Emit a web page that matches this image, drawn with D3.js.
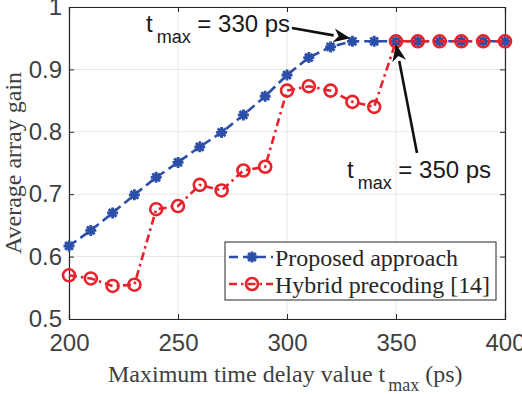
<!DOCTYPE html>
<html>
<head>
<meta charset="utf-8">
<script src="https://cdn.jsdelivr.net/npm/d3@7"></script>
<style>
  body { margin: 0; background: #fff; }
  svg { display: block; }
</style>
</head>
<body>
<div id="chart"></div>
<script>
// data
var delays = [200, 210, 220, 230, 240, 250, 260, 270, 280, 290, 300, 310, 320, 330, 340, 350, 360, 370, 380, 390, 400];
var proposed = [0.617, 0.642, 0.670, 0.699, 0.727, 0.751, 0.776, 0.799, 0.827, 0.857, 0.891, 0.919, 0.936, 0.945, 0.945, 0.945, 0.945, 0.945, 0.945, 0.945, 0.945];
var hybrid = [0.570, 0.565, 0.553, 0.555, 0.676, 0.681, 0.715, 0.706, 0.738, 0.744, 0.866, 0.873, 0.866, 0.848, 0.840, 0.945, 0.945, 0.945, 0.945, 0.945, 0.945];
var xTicks = [200, 250, 300, 350, 400];
var yTicks = [0.5, 0.6, 0.7, 0.8, 0.9, 1];
var seriesNames = ["Proposed approach", "Hybrid precoding [14]"];

var W = 522, H = 394;
var margin = {top: 7, right: 17, bottom: 75, left: 69};
var width = W - margin.left - margin.right,
    height = H - margin.top - margin.bottom;

var blue = "#2b4ea8", red = "#e8212b";

var svg = d3.select("#chart").append("svg")
  .attr("width", W)
  .attr("height", H);

var g = svg.append("g")
  .attr("transform", "translate(" + margin.left + "," + margin.top + ")");

var x = d3.scaleLinear().domain([200, 400]).range([0, width]);
var y = d3.scaleLinear().domain([0.5, 1]).range([height, 0]);

//Grid
g.append("g").selectAll("line").data(xTicks).enter().append("line")
  .attr("x1", function(d){ return x(d); })
  .attr("x2", function(d){ return x(d); })
  .attr("y1", 0).attr("y2", height)
  .style("stroke", "#e6e6e6").style("stroke-width", 1);
g.append("g").selectAll("line").data(yTicks).enter().append("line")
  .attr("y1", function(d){ return y(d); })
  .attr("y2", function(d){ return y(d); })
  .attr("x1", 0).attr("x2", width)
  .style("stroke", "#e6e6e6").style("stroke-width", 1);

//Axes
var tickFont = "'Liberation Sans', Arial, sans-serif";
var xAxis = g.append("g")
  .attr("transform", "translate(0," + height + ")")
  .call(d3.axisBottom(x).tickValues(xTicks).tickSize(-5).tickPadding(15));
var yAxis = g.append("g")
  .call(d3.axisLeft(y).tickValues(yTicks).tickSize(-5).tickPadding(7)
    .tickFormat(function(d){ return d === 1 ? "1" : d3.format(".1f")(d); }));
g.append("g")
  .attr("transform", "translate(" + width + ",0)")
  .call(d3.axisRight(y).tickValues(yTicks).tickSize(-5).tickFormat(""));
g.append("g")
  .call(d3.axisTop(x).tickValues(xTicks).tickSize(-5).tickFormat(""));

g.selectAll(".domain").style("stroke", "#262626").style("stroke-width", 1.2);
g.selectAll(".tick line").style("stroke", "#262626");
g.selectAll(".tick text")
  .style("font-family", tickFont)
  .style("font-size", "24px")
  .style("fill", "#404040");
xAxis.selectAll(".tick text").attr("dy", "0.71em");

//Lines
var line = function(vals){
  return d3.line()
    .x(function(d, i){ return x(delays[i]); })
    .y(function(d){ return y(d); })(vals);
};

g.append("path")
  .attr("d", line(proposed))
  .style("fill", "none").style("stroke", blue)
  .style("stroke-width", 2.6).style("stroke-dasharray", "9,5");

function asterisk(sel, cx, cy, r){
  var a = r * 0.7071;
  sel.append("path")
    .attr("d", "M" + (cx - r) + "," + cy + "L" + (cx + r) + "," + cy +
               "M" + cx + "," + (cy - r) + "L" + cx + "," + (cy + r) +
               "M" + (cx - a) + "," + (cy - a) + "L" + (cx + a) + "," + (cy + a) +
               "M" + (cx - a) + "," + (cy + a) + "L" + (cx + a) + "," + (cy - a))
    .style("stroke", blue).style("stroke-width", 2.8).style("fill", "none");
}

proposed.forEach(function(d, i){ asterisk(g, x(delays[i]), y(d), 5.5); });

g.append("path")
  .attr("d", line(hybrid))
  .style("fill", "none").style("stroke", red)
  .style("stroke-width", 2.6).style("stroke-dasharray", "8,4,2.5,4");

g.selectAll(".hyb").data(hybrid).enter().append("circle")
  .attr("class", "hyb")
  .attr("cx", function(d, i){ return x(delays[i]); })
  .attr("cy", function(d){ return y(d); })
  .attr("r", 6)
  .style("fill", "none").style("stroke", red).style("stroke-width", 2.6);

//Legend
var serif = "'Liberation Serif', 'Times New Roman', serif";
var legendLen = [183, 215];
var lg = svg.append("g").attr("transform", "translate(225,242)");
lg.append("rect")
  .attr("width", 271).attr("height", 58)
  .style("fill", "#fff").style("stroke", "#262626").style("stroke-width", 1);
[0, 1].forEach(function(k){
  var yy = 15 + k * 27;
  lg.append("line")
    .attr("x1", 4).attr("x2", 48).attr("y1", yy).attr("y2", yy)
    .style("stroke", k ? red : blue).style("stroke-width", 2.6)
    .style("stroke-dasharray", k ? "8,4,2.5,4" : "9,5");
  if(k) lg.append("circle").attr("cx", 27).attr("cy", yy).attr("r", 6)
    .style("fill", "none").style("stroke", red).style("stroke-width", 2.6);
  else asterisk(lg, 27, yy, 5.5);
  lg.append("text")
    .attr("x", 50).attr("y", yy + 9)
    .attr("textLength", legendLen[k]).attr("lengthAdjust", "spacingAndGlyphs")
    .style("font-family", serif).style("font-size", "24px").style("fill", "#262626")
    .text(seriesNames[k]);
});

//Axis labels
var xl = svg.append("text")
  .attr("x", 108).attr("y", 382)
  .style("font-family", serif).style("font-size", "24px").style("fill", "#404040");
xl.append("tspan").text("Maximum time delay value t");
xl.append("tspan").attr("dx", 3).attr("dy", 9).style("font-size", "18px").text("max");
xl.append("tspan").attr("dy", -9).text(" (ps)");

svg.append("text")
  .attr("transform", "translate(21," + (margin.top + height / 2) + ") rotate(-90)")
  .style("text-anchor", "middle")
  .style("font-family", serif).style("font-size", "24px").style("fill", "#404040")
  .text("Average array gain");

//Annotations
function annot(tx, ty, val){
  var t = svg.append("text")
    .attr("x", tx).attr("y", ty)
    .style("font-family", tickFont).style("font-size", "24px").style("fill", "#1a1a1a");
  t.append("tspan").text("t");
  t.append("tspan").attr("dx", 4).attr("dy", 11).style("font-size", "18px").text("max");
  t.append("tspan").attr("dy", -11).text(" = " + val + " ps");
}
annot(146, 32, 330);
annot(347, 178, 350);

function arrow(x1, y1, x2, y2){
  var ang = Math.atan2(y2 - y1, x2 - x1), L = 17, Wd = 7;
  var bx = x2 - L * Math.cos(ang), by = y2 - L * Math.sin(ang);
  svg.append("line")
    .attr("x1", x1).attr("y1", y1).attr("x2", bx).attr("y2", by)
    .style("stroke", "#111").style("stroke-width", 2.6);
  svg.append("path")
    .attr("d", "M" + x2 + "," + y2 +
      "L" + (bx + Wd * Math.sin(ang)) + "," + (by - Wd * Math.cos(ang)) +
      "L" + (x2 - L * 0.7 * Math.cos(ang)) + "," + (y2 - L * 0.7 * Math.sin(ang)) +
      "L" + (bx - Wd * Math.sin(ang)) + "," + (by + Wd * Math.cos(ang)) + "Z")
    .style("fill", "#111");
}
arrow(292, 28, x(330) + margin.left - 2, y(0.945) + margin.top - 3);
arrow(417, 153, x(350) + margin.left, y(0.945) + margin.top + 3);
</script>
</body>
</html>
